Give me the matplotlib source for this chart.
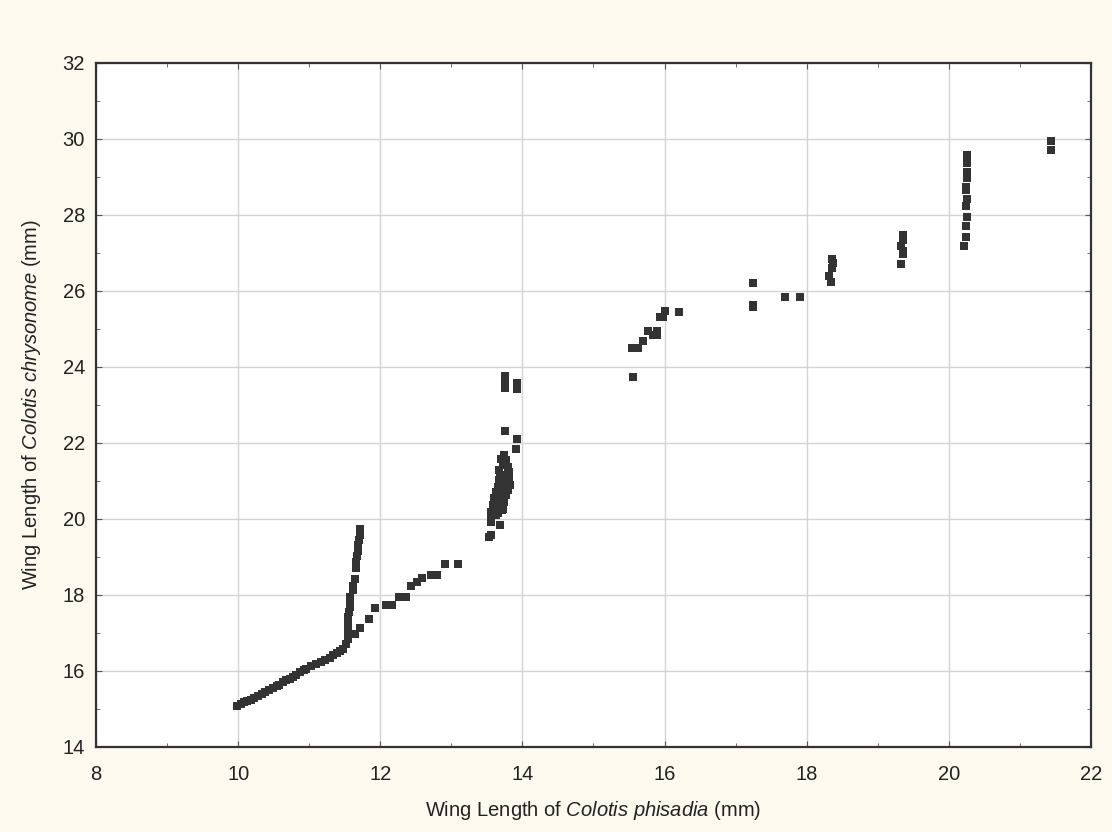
import matplotlib.pyplot as plt
from matplotlib.ticker import MultipleLocator

# wing lengths (mm)
phisadia = [
    # lower run
    9.99, 10.04, 10.08, 10.13, 10.18, 10.23, 10.28, 10.33, 10.38, 10.44, 10.49, 10.54,
    10.58, 10.63, 10.68, 10.73, 10.77, 10.82, 10.87, 10.92, 10.96, 11.02, 11.09, 11.16,
    11.22, 11.29, 11.34, 11.39, 11.44, 11.48, 11.52, 11.55,
    # near-vertical branch at 11.6
    11.54, 11.54, 11.54, 11.55, 11.55, 11.56, 11.57, 11.57, 11.58, 11.61, 11.62, 11.64,
    11.66, 11.66, 11.67, 11.68, 11.69, 11.70, 11.71, 11.71,
    # diagonal branch towards 13
    11.64, 11.71, 11.84, 11.93, 12.08, 12.16, 12.27, 12.36, 12.43, 12.51, 12.59, 12.71,
    12.80, 12.91, 13.09,
    # cluster at 13.7
    13.76, 13.76, 13.75, 13.92, 13.92, 13.76, 13.93, 13.91,
    13.74, 13.70, 13.77, 13.72, 13.79, 13.67, 13.81, 13.74, 13.81, 13.67, 13.77, 13.82,
    13.65, 13.72, 13.79, 13.63, 13.70, 13.77, 13.60, 13.67, 13.74, 13.58, 13.66, 13.72,
    13.56, 13.65, 13.71, 13.56, 13.63, 13.56, 13.68, 13.56, 13.53, 13.61, 13.69, 13.75,
    # 15.5 - 16.2
    15.56, 15.54, 15.63, 15.69, 15.77, 15.89, 15.84, 15.89, 15.93, 15.98, 16.01, 16.21,
    # 17 - 18.3
    17.25, 17.25, 17.25, 17.69, 17.91, 18.35, 18.36, 18.32, 18.34, 18.37,
    # 19.3
    19.36, 19.33, 19.35, 19.36, 19.33, 19.35,
    # 20.2 column
    20.26, 20.26, 20.26, 20.24, 20.24, 20.26, 20.24, 20.26, 20.24, 20.24, 20.21, 20.26,
    # 21.4
    21.44, 21.44,
]
chrysonome = [
    15.07, 15.12, 15.19, 15.22, 15.25, 15.30, 15.35, 15.40, 15.44, 15.50, 15.55, 15.60,
    15.64, 15.70, 15.77, 15.80, 15.84, 15.90, 15.97, 16.02, 16.06, 16.12, 16.18, 16.25,
    16.30, 16.35, 16.42, 16.48, 16.53, 16.58, 16.71, 16.85,
    16.87, 17.00, 17.15, 17.29, 17.42, 17.55, 17.68, 17.81, 17.95, 18.12, 18.25, 18.43,
    18.71, 18.87, 19.03, 19.17, 19.31, 19.44, 19.58, 19.73,
    16.97, 17.14, 17.37, 17.66, 17.74, 17.74, 17.94, 17.94, 18.25, 18.34, 18.45, 18.53,
    18.53, 18.82, 18.82,
    23.76, 23.65, 23.46, 23.57, 23.42, 22.32, 22.10, 21.85,
    21.68, 21.59, 21.55, 21.42, 21.37, 21.28, 21.24, 21.15, 21.06, 21.02, 20.93, 20.89,
    20.84, 20.80, 20.76, 20.71, 20.62, 20.62, 20.54, 20.49, 20.45, 20.36, 20.32, 20.27,
    20.19, 20.17, 20.23, 20.05, 20.10, 19.92, 19.83, 19.57, 19.53, 20.40, 21.10, 20.95,
    23.74, 24.49, 24.49, 24.68, 24.95, 24.95, 24.84, 24.84, 25.32, 25.32, 25.48, 25.46,
    26.22, 25.63, 25.59, 25.84, 25.84, 26.83, 26.60, 26.40, 26.23, 26.73,
    27.47, 27.19, 27.06, 26.97, 26.72, 27.33,
    29.59, 29.36, 28.97, 28.73, 28.66, 28.42, 28.23, 27.96, 27.72, 27.43, 27.19, 29.13,
    29.96, 29.72,
]

plt.rcParams['font.family'] = ['Liberation Sans', 'DejaVu Sans']
plt.rcParams['mathtext.fontset'] = 'custom'
plt.rcParams['mathtext.rm'] = 'Liberation Sans'
plt.rcParams['mathtext.it'] = 'Liberation Sans:italic'

fig = plt.figure(figsize=(11.12, 8.32), dpi=100, facecolor='#fdf9ef')
ax = fig.add_axes([96 / 1112, 1 - 747 / 832, (1091 - 96) / 1112, (747 - 63) / 832])
ax.set_facecolor('white')

ax.plot(phisadia, chrysonome, 's', color='#333333', markersize=5.5, markeredgewidth=0)

ax.set_xlim(8, 22)
ax.set_ylim(14, 32)
ax.xaxis.set_major_locator(MultipleLocator(2))
ax.yaxis.set_major_locator(MultipleLocator(2))
ax.xaxis.set_minor_locator(MultipleLocator(1))
ax.yaxis.set_minor_locator(MultipleLocator(1))
ax.grid(True, which='major', color='#d4d4d4', linewidth=1)
ax.set_axisbelow(True)
ax.tick_params(which='both', direction='in', top=True, right=True,
               color='#555555', labelsize=14.5, labelcolor='#222222')
ax.tick_params(which='major', length=4, pad=8)
ax.tick_params(axis='x', which='major', pad=13)
ax.tick_params(which='minor', length=3)
for s in ax.spines.values():
    s.set_color('#333333')
    s.set_linewidth(1.6)

ax.set_xlabel('Wing Length of $\\it{Colotis\\ phisadia}$ (mm)', fontsize=14.5,
              color='#222222', labelpad=11)
ax.set_ylabel('Wing Length of $\\it{Colotis\\ chrysonome}$ (mm)', fontsize=14.5,
              color='#222222', labelpad=14)

fig.savefig('out.png', dpi=100, facecolor=fig.get_facecolor())
